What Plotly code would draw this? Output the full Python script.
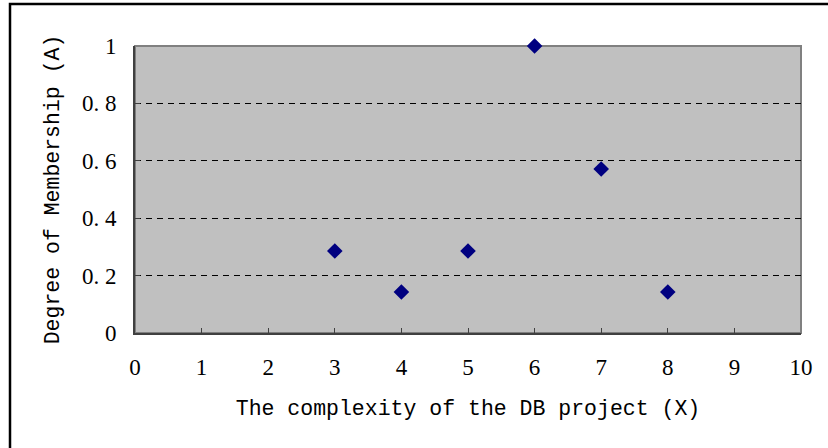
import plotly.graph_objects as go

x_vals = [3, 4, 5, 6, 7, 8]
y_vals = [0.2857, 0.1429, 0.2857, 1.0, 0.5714, 0.1429]

x_ticks = [0, 1, 2, 3, 4, 5, 6, 7, 8, 9, 10]
y_ticks = [0, 0.2, 0.4, 0.6, 0.8, 1]
y_ticktext = ["0", "0. 2", "0. 4", "0. 6", "0. 8", "1"]

x_title = "The complexity of the DB project (X)"
y_title = "Degree of Membership (A)"

W, H = 828, 448
L, R, T, B = 135, 27, 46, 115
pw, ph = W - L - R, H - T - B

fig = go.Figure()
fig.add_trace(go.Scatter(
    x=x_vals, y=y_vals, mode="markers",
    marker=dict(symbol="diamond", color="#000080", size=12, line=dict(width=0)),
    cliponaxis=False, showlegend=False,
))

tick_font = dict(family="Liberation Serif", size=23, color="black")
title_font = dict(family="Liberation Mono", size=21.5, color="black")

fig.update_layout(
    width=W, height=H,
    margin=dict(l=L, r=R, t=T, b=B, pad=0),
    paper_bgcolor="white", plot_bgcolor="#C0C0C0",
    xaxis=dict(
        range=[0, 10], tickvals=x_ticks, ticks="inside", ticklen=5, tickwidth=1,
        tickcolor="#404040", showgrid=False, zeroline=False,
        showline=True, linecolor="#404040", linewidth=2,
        tickfont=tick_font, ticklabelstandoff=12,
        title=dict(text=x_title, font=title_font, standoff=21),
    ),
    yaxis=dict(
        range=[0, 1], tickvals=y_ticks, ticktext=y_ticktext, ticks="inside", ticklen=5,
        tickwidth=1, tickcolor="#404040",
        showgrid=True, gridcolor="black", gridwidth=1, griddash="6px,5px",
        zeroline=False, showline=True, linecolor="#404040", linewidth=2,
        tickfont=tick_font, ticklabelstandoff=12,
        title=dict(text=y_title, font=title_font, standoff=16),
    ),
    shapes=[
        dict(type="rect", xref="paper", yref="paper", x0=0, x1=1, y0=0, y1=1,
             line=dict(color="#808080", width=2), layer="below"),
        dict(type="rect", xref="paper", yref="paper",
             x0=(10 - L) / pw, y1=(T + ph - 4) / ph, x1=2, y0=-2,
             line=dict(color="black", width=2.5), layer="above"),
    ],
)

fig.write_html("out.html")
